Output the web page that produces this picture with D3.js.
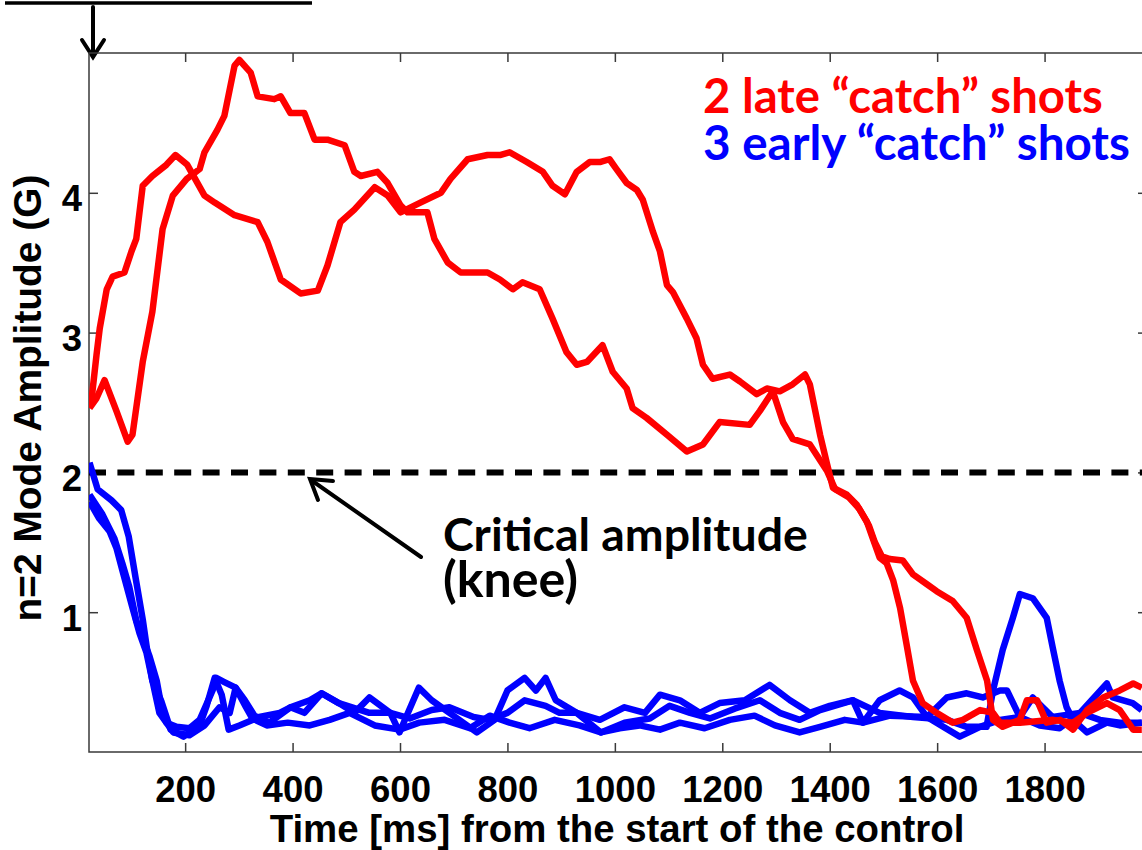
<!DOCTYPE html>
<html>
<head>
<meta charset="utf-8">
<script src="https://cdn.jsdelivr.net/npm/d3@7"></script>
<style>
  body { margin: 0; background: #fff; }
  svg { display: block; }
</style>
</head>
<body>
<svg id="chart" width="1142" height="850"></svg>
<script>
// n=2 mode amplitude traces, [time in ms, amplitude in G]
const lateCatchA = [[22,2.47],[26,2.53],[35,2.84],[41,3.03],[54,3.31],[65,3.40],[87,3.43],[100,3.58],[109,3.67],[121,4.05],[139,4.12],[165,4.20],[182,4.27],[204,4.20],[236,3.98],[255,3.93],[292,3.84],[335,3.79],[353,3.65],[378,3.38],[415,3.28],[447,3.30],[465,3.48],[489,3.79],[515,3.88],[553,4.04],[577,3.98],[601,3.86],[638,3.93],[676,4.00],[694,4.10],[726,4.24],[763,4.27],[786,4.27],[804,4.29],[836,4.22],[866,4.15],[884,4.05],[907,3.99],[929,4.15],[953,4.22],[972,4.22],[990,4.24],[1003,4.17],[1022,4.07],[1041,4.02],[1052,3.95],[1071,3.72],[1084,3.58],[1097,3.34],[1108,3.29],[1134,3.10],[1152,2.96],[1164,2.77],[1182,2.67],[1214,2.70],[1233,2.65],[1264,2.56],[1283,2.60],[1307,2.58],[1331,2.63],[1354,2.70],[1363,2.63],[1382,2.27],[1395,2.06],[1406,1.89],[1432,1.84],[1450,1.77],[1469,1.65],[1480,1.53],[1493,1.39],[1506,1.35],[1518,1.23],[1531,1.03],[1544,0.75],[1555,0.51],[1573,0.35],[1599,0.28],[1629,0.21],[1648,0.23],[1680,0.30],[1704,0.28],[1717,0.21],[1754,0.21],[1816,0.23],[1853,0.21],[1879,0.28],[1916,0.35],[1940,0.30],[1965,0.16],[1981,0.16]];
const lateCatchB = [[22,2.46],[35,2.53],[50,2.66],[72,2.44],[93,2.22],[102,2.27],[121,2.79],[139,3.15],[158,3.74],[177,3.98],[203,4.10],[227,4.17],[236,4.29],[260,4.45],[273,4.55],[292,4.91],[301,4.95],[322,4.86],[335,4.69],[366,4.67],[378,4.69],[396,4.57],[422,4.57],[441,4.38],[465,4.38],[497,4.34],[515,4.15],[527,4.12],[558,4.15],[577,4.07],[601,3.91],[614,3.86],[651,3.86],[664,3.67],[689,3.50],[713,3.43],[763,3.43],[786,3.38],[810,3.31],[828,3.36],[860,3.31],[884,3.10],[910,2.86],[929,2.77],[948,2.79],[977,2.91],[996,2.72],[1022,2.60],[1033,2.46],[1059,2.39],[1097,2.27],[1134,2.15],[1164,2.20],[1195,2.36],[1251,2.34],[1270,2.44],[1294,2.58],[1313,2.36],[1331,2.24],[1363,2.20],[1395,2.01],[1410,1.88],[1436,1.82],[1455,1.74],[1473,1.62],[1484,1.50],[1497,1.40],[1512,1.38],[1536,1.37],[1555,1.27],[1581,1.20],[1599,1.15],[1629,1.08],[1655,0.96],[1674,0.73],[1693,0.51],[1704,0.23],[1722,0.18],[1754,0.23],[1767,0.37],[1786,0.37],[1804,0.21],[1829,0.23],[1853,0.16],[1879,0.30],[1909,0.39],[1940,0.44],[1965,0.49],[1981,0.46]];

const earlyCatchA = [[22,1.84],[46,1.70],[68,1.53],[83,1.35],[96,1.18],[109,0.94],[121,0.82],[134,0.68],[147,0.51],[158,0.28],[165,0.21],[184,0.18],[208,0.17],[227,0.23],[251,0.44],[258,0.53],[273,0.50],[294,0.46],[311,0.37],[329,0.26],[357,0.21],[396,0.32],[422,0.28],[454,0.42],[486,0.35],[515,0.28],[543,0.39],[582,0.28],[618,0.24],[659,0.30],[692,0.32],[737,0.25],[767,0.23],[800,0.28],[832,0.37],[871,0.33],[897,0.28],[929,0.28],[974,0.14],[1018,0.21],[1065,0.24],[1102,0.33],[1140,0.28],[1177,0.24],[1223,0.31],[1270,0.37],[1307,0.28],[1344,0.23],[1382,0.30],[1443,0.37],[1493,0.28],[1555,0.25],[1618,0.23],[1655,0.18],[1692,0.18],[1704,0.44],[1722,0.73],[1741,0.96],[1754,1.13],[1778,1.10],[1804,0.96],[1815,0.75],[1828,0.51],[1841,0.32],[1853,0.23],[1879,0.14],[1916,0.21],[1940,0.19],[1981,0.21]];
const earlyCatchB = [[22,2.07],[37,1.88],[63,1.80],[81,1.73],[95,1.54],[108,1.24],[121,0.95],[130,0.71],[139,0.51],[156,0.36],[173,0.16],[197,0.11],[227,0.19],[240,0.33],[255,0.53],[268,0.41],[281,0.16],[301,0.19],[338,0.25],[376,0.28],[396,0.32],[432,0.37],[454,0.42],[486,0.35],[543,0.28],[582,0.28],[599,0.14],[635,0.46],[659,0.37],[692,0.28],[743,0.14],[776,0.23],[800,0.44],[832,0.53],[853,0.44],[871,0.53],[890,0.37],[929,0.28],[972,0.23],[1018,0.32],[1056,0.28],[1084,0.41],[1121,0.37],[1158,0.28],[1195,0.35],[1242,0.37],[1288,0.48],[1326,0.37],[1363,0.28],[1400,0.33],[1443,0.37],[1462,0.21],[1493,0.37],[1530,0.44],[1555,0.39],[1581,0.25],[1618,0.39],[1655,0.42],[1685,0.39],[1717,0.44],[1730,0.44],[1754,0.25],[1778,0.39],[1815,0.25],[1866,0.28],[1916,0.49],[1927,0.39],[1964,0.35],[1981,0.30]];
const earlyCatchC = [[22,1.79],[40,1.67],[59,1.58],[72,1.46],[83,1.30],[102,1.03],[115,0.85],[128,0.71],[139,0.51],[152,0.28],[165,0.21],[178,0.14],[208,0.12],[236,0.19],[264,0.32],[283,0.28],[294,0.46],[312,0.33],[325,0.24],[352,0.19],[391,0.21],[432,0.19],[469,0.23],[506,0.28],[553,0.19],[599,0.16],[636,0.21],[683,0.23],[730,0.17],[767,0.26],[804,0.21],[841,0.17],[888,0.23],[934,0.19],[974,0.14],[1009,0.17],[1046,0.19],[1084,0.16],[1121,0.21],[1167,0.17],[1214,0.23],[1260,0.26],[1298,0.19],[1344,0.14],[1382,0.18],[1428,0.23],[1462,0.21],[1512,0.26],[1581,0.25],[1642,0.11],[1680,0.18],[1717,0.23],[1754,0.25],[1791,0.19],[1828,0.17],[1866,0.28],[1903,0.23],[1940,0.21],[1981,0.21]];

const xTickValues = [200, 400, 600, 800, 1000, 1200, 1400, 1600, 1800];
const yTickValues = [1, 2, 3, 4];
const criticalAmplitude = 2;
const legendLines = ["2 late \u201Ccatch\u201D shots", "3 early \u201Ccatch\u201D shots"];
const xTitle = "Time [ms] from the start of the control";
const yTitle = "n=2 Mode Amplitude (G)";
const noteLines = ["Critical amplitude", "(knee)"];

const svg = d3.select("#chart");
const plot = { left: 89, right: 1152, top: 53, bottom: 752 };
const x = d3.scaleLinear().domain([21, 2000]).range([plot.left, plot.right]);
const y = d3.scaleLinear().domain([0, 5]).range([plot.bottom, plot.top]);

const axisFont = "'Liberation Sans', Arial, Helvetica, sans-serif";
const slideFont = "Lato, 'Open Sans', sans-serif";
const axisColor = "#3a3a3a";

// fit a text element to a given width by scaling its font size
function fitWidth(sel, width) {
  const w = sel.node().getComputedTextLength();
  const fs = parseFloat(sel.attr("font-size"));
  sel.attr("font-size", fs * width / w);
}

// slide decorations above the axes
svg.append("line").attr("x1", 5).attr("x2", 312).attr("y1", 3).attr("y2", 3)
  .attr("stroke", "#000").attr("stroke-width", 3.5);
const startArrow = svg.append("g").attr("stroke", "#000").attr("stroke-width", 4)
  .attr("fill", "none").attr("stroke-linecap", "round").attr("stroke-linejoin", "miter");
startArrow.append("line").attr("x1", 93).attr("x2", 93).attr("y1", 7).attr("y2", 56);
startArrow.append("path").attr("d", "M82,40 L93,57 L104,40");

// axes
const clipId = "plot-clip";
svg.append("defs").append("clipPath").attr("id", clipId)
  .append("rect").attr("x", plot.left).attr("y", plot.top)
  .attr("width", plot.right - plot.left).attr("height", plot.bottom - plot.top);

function styleAxis(g) {
  g.select(".domain").remove();
  g.selectAll(".tick line").attr("stroke", axisColor).attr("stroke-width", 1.5);
  g.selectAll("text").attr("font-family", axisFont).attr("font-weight", "bold")
    .attr("font-size", 36.5).attr("fill", "#000");
}

svg.append("g").attr("transform", `translate(0,${plot.bottom})`)
  .call(d3.axisBottom(x).tickValues(xTickValues).tickSize(-9).tickSizeOuter(0).tickFormat(d3.format("d")))
  .call(styleAxis)
  .call(g => g.selectAll("text").attr("y", 50).attr("dy", 0));

svg.append("g").attr("transform", `translate(0,${plot.top})`)
  .call(d3.axisTop(x).tickValues(xTickValues).tickSize(-9).tickSizeOuter(0).tickFormat(""))
  .call(styleAxis);

svg.append("g").attr("transform", `translate(${plot.left},0)`)
  .call(d3.axisLeft(y).tickValues(yTickValues).tickSize(-9).tickSizeOuter(0).tickFormat(d3.format("d")))
  .call(styleAxis)
  .call(g => g.selectAll("text").attr("x", -7).attr("dy", 18));

svg.append("g").attr("transform", `translate(${plot.right},0)`)
  .call(d3.axisRight(y).tickValues(yTickValues).tickSize(-14).tickSizeOuter(0).tickFormat(""))
  .call(styleAxis);

svg.append("path")
  .attr("d", `M${plot.left},${plot.top} H${plot.right} V${plot.bottom} H${plot.left} Z`)
  .attr("fill", "none").attr("stroke", axisColor).attr("stroke-width", 1.5);

// axis titles
const xTitleEl = svg.append("text").attr("x", 617).attr("y", 842)
  .attr("text-anchor", "middle").attr("font-family", axisFont).attr("font-weight", "bold")
  .attr("font-size", 36).text(xTitle);
fitWidth(xTitleEl, 695);
const yTitleEl = svg.append("text").attr("transform", "translate(41,398) rotate(-90)")
  .attr("text-anchor", "middle").attr("font-family", axisFont).attr("font-weight", "bold")
  .attr("font-size", 36).text(yTitle);
fitWidth(yTitleEl, 447);

// critical amplitude threshold
svg.append("line")
  .attr("x1", plot.left).attr("x2", plot.right)
  .attr("y1", y(criticalAmplitude)).attr("y2", y(criticalAmplitude))
  .attr("stroke", "#000").attr("stroke-width", 6).attr("stroke-dasharray", "17,11.4");

// traces
const line = d3.line().x(d => x(d[0])).y(d => y(d[1]));
const traces = svg.append("g").attr("clip-path", `url(#${clipId})`)
  .attr("fill", "none").attr("stroke-width", 6.5).attr("stroke-linejoin", "round");
[earlyCatchA, earlyCatchB, earlyCatchC].forEach(s =>
  traces.append("path").datum(s).attr("d", line).attr("stroke", "#0000ff"));
[lateCatchA, lateCatchB].forEach(s =>
  traces.append("path").datum(s).attr("d", line).attr("stroke", "#ff0000"));

// legend
const legendColors = ["#ff0000", "#0000ff"];
const legendBaselines = [113, 160];
const legendWidths = [400, 427];
legendLines.forEach((t, i) => {
  const el = svg.append("text").attr("x", 703).attr("y", legendBaselines[i])
    .attr("font-family", slideFont).attr("font-weight", "bold").attr("font-size", 40)
    .attr("fill", legendColors[i]).text(t);
  fitWidth(el, legendWidths[i]);
});

// annotation with arrow to threshold
const noteBaselines = [551, 597];
const noteWidths = [365, 135];
noteLines.forEach((t, i) => {
  const el = svg.append("text").attr("x", 443).attr("y", noteBaselines[i])
    .attr("font-family", slideFont).attr("font-weight", "bold").attr("font-size", 40)
    .attr("fill", "#000").text(t);
  fitWidth(el, noteWidths[i]);
});
const noteArrow = svg.append("g").attr("stroke", "#000").attr("stroke-width", 4)
  .attr("fill", "none").attr("stroke-linecap", "round").attr("stroke-linejoin", "miter");
noteArrow.append("line").attr("x1", 421).attr("y1", 557).attr("x2", 311).attr("y2", 480);
noteArrow.append("path").attr("d", "M333,481 L310,479 L318,500");
</script>
</body>
</html>
